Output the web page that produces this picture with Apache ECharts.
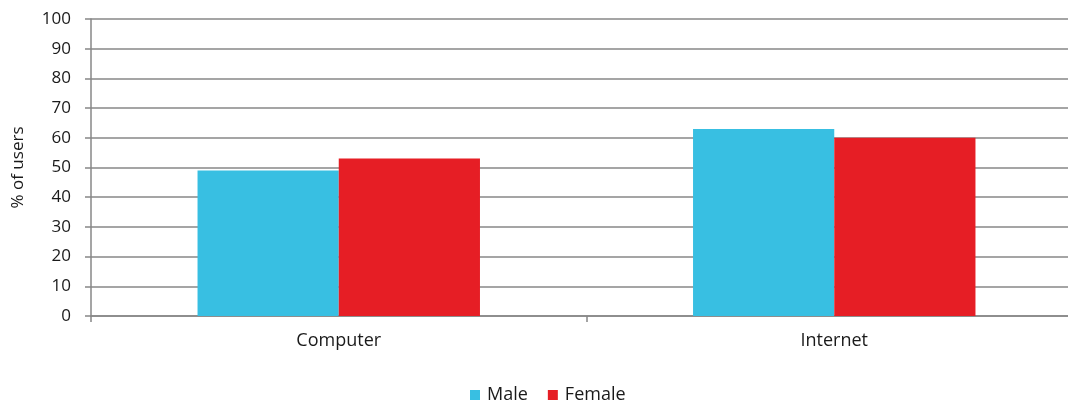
<!DOCTYPE html>
<html>
<head>
<meta charset="utf-8">
<script src="https://cdn.jsdelivr.net/npm/echarts@6/dist/echarts.min.js"></script>
<style>
  html, body { margin: 0; padding: 0; background: #ffffff; }
  #chart { width: 1068px; height: 400px; }
</style>
</head>
<body>
<div id="chart"></div>
<script>
// Share of users by gender, per technology
const categories = ['Computer', 'Internet'];
const maleValues = [49, 63];
const femaleValues = [53, 60];
const yTicks = [0, 10, 20, 30, 40, 50, 60, 70, 80, 90, 100];

const FONT = '"Open Sans", Lato, sans-serif';
const GRID_COLOR = '#878787';
const TEXT_COLOR = '#1a1a1a';

const chart = echarts.init(document.getElementById('chart'), null, { renderer: 'canvas' });

chart.setOption({
  animation: false,
  backgroundColor: '#ffffff',
  textStyle: { fontFamily: FONT },
  grid: { left: 91, top: 19, width: 991, height: 297, containLabel: false, outerBoundsMode: 'none' },
  legend: {
    top: 381,
    left: 465,
    itemWidth: 10,
    itemHeight: 10,
    itemGap: 20,
    icon: 'rect',
    textStyle: { fontFamily: FONT, fontSize: 18, color: TEXT_COLOR, padding: [0, 0, 0, 2] },
    data: ['Male', 'Female']
  },
  xAxis: {
    type: 'category',
    data: categories,
    axisLine: { lineStyle: { color: GRID_COLOR, width: 1.5 } },
    axisTick: { show: true, length: 6, lineStyle: { color: GRID_COLOR, width: 1.5 } },
    axisLabel: { fontFamily: FONT, fontSize: 18, color: TEXT_COLOR, margin: 16 }
  },
  yAxis: {
    type: 'value',
    min: yTicks[0],
    max: yTicks[yTicks.length - 1],
    interval: yTicks[1] - yTicks[0],
    name: '% of users',
    nameLocation: 'middle',
    nameGap: 64,
    nameTextStyle: { fontFamily: FONT, fontSize: 17, color: TEXT_COLOR },
    axisLine: { show: true, lineStyle: { color: GRID_COLOR, width: 1.5 } },
    axisTick: { show: true, length: 6, lineStyle: { color: GRID_COLOR, width: 1.5 } },
    axisLabel: { fontFamily: FONT, fontSize: 17, color: TEXT_COLOR, margin: 20 },
    splitLine: { show: true, lineStyle: { color: GRID_COLOR, width: 1.5 } }
  },
  series: [
    {
      name: 'Male',
      type: 'bar',
      data: maleValues,
      barGap: '0%',
      barCategoryGap: '43%',
      itemStyle: { color: '#38bfe2' }
    },
    {
      name: 'Female',
      type: 'bar',
      data: femaleValues,
      barGap: '0%',
      barCategoryGap: '43%',
      itemStyle: { color: '#e61e25' }
    }
  ]
});
</script>
</body>
</html>
